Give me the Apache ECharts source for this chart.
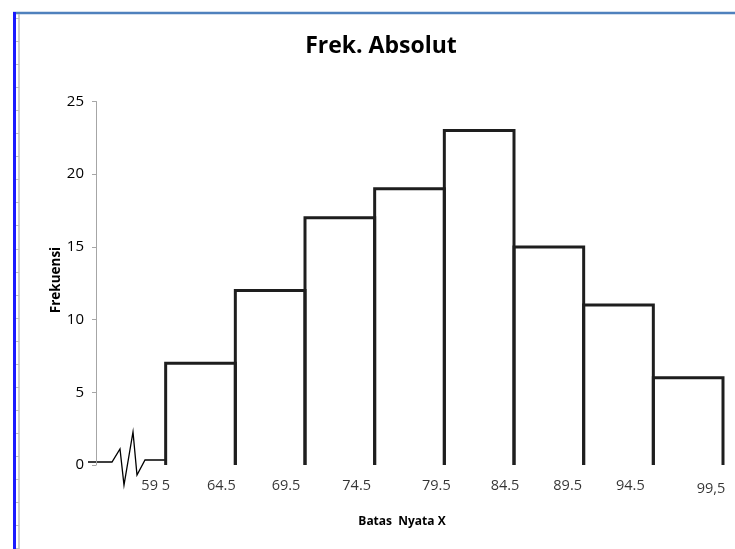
<!DOCTYPE html>
<html>
<head>
<meta charset="utf-8">
<script src="https://cdn.jsdelivr.net/npm/echarts@6/dist/echarts.min.js"></script>
<style>
  html, body { margin: 0; padding: 0; background: #ffffff; }
  #chart { width: 735px; height: 549px; }
</style>
</head>
<body>
<div id="chart"></div>
<script>
// Class boundaries (Batas Nyata) and absolute frequency of each class
const classBounds = [59.5, 64.5, 69.5, 74.5, 79.5, 84.5, 89.5, 94.5, 99.5];
const frequencies = [7, 12, 17, 19, 23, 15, 11, 6];
const boundLabels = ['59 5', '64.5', '69.5', '74.5', '79.5', '84.5', '89.5', '94.5', '99,5'];
const yTicks = [0, 5, 10, 15, 20, 25];

const FONT = '"Open Sans", "Noto Sans", sans-serif';
const X_MIN = 54.5;
const X_MAX = 99.5;

// hand-placed nudges of the boundary labels (pixels, relative to each boundary on the baseline)
const labelNudge = [[-10, 21], [-14, 21], [-19, 21], [-18, 21], [-8, 21], [-9, 21], [-16, 21], [-23, 21], [-12, 24]];

const chart = echarts.init(document.getElementById('chart'), null, { renderer: 'canvas' });

const histData = frequencies.map((f, i) => [classBounds[i], classBounds[i + 1], f]);
const labelData = classBounds.map((b, i) => ({
  value: [b, 0],
  label: { formatter: boundLabels[i], offset: labelNudge[i] }
}));

chart.setOption({
  animation: false,
  backgroundColor: '#ffffff',
  title: {
    text: 'Frek. Absolut',
    left: 376,
    textAlign: 'center',
    top: 30,
    textStyle: { fontFamily: FONT, fontWeight: 'bold', fontSize: 23, color: '#000000' }
  },
  grid: { left: 96, right: 12, top: 101.5, bottom: 84, containLabel: false },
  xAxis: {
    type: 'value',
    min: X_MIN,
    max: X_MAX,
    show: false
  },
  yAxis: {
    type: 'value',
    min: yTicks[0],
    max: yTicks[yTicks.length - 1],
    interval: yTicks[1] - yTicks[0],
    axisLine: { show: true, lineStyle: { color: '#a6a6a6', width: 1 } },
    axisTick: { show: true, length: 4, lineStyle: { color: '#a6a6a6' } },
    axisLabel: { margin: 12, color: '#000000', fontFamily: FONT, fontSize: 15 },
    splitLine: { show: false }
  },
  series: [
    {
      type: 'custom',
      clip: false,
      encode: { x: [0, 1], y: 2 },
      data: histData,
      renderItem: function (params, api) {
        const x0 = api.value(0), x1 = api.value(1), f = api.value(2);
        return {
          type: 'polyline',
          shape: { points: [api.coord([x0, 0]), api.coord([x0, f]), api.coord([x1, f]), api.coord([x1, 0])] },
          style: { stroke: '#1e1e1e', lineWidth: 3, fill: null, lineJoin: 'miter' }
        };
      }
    },
    {
      type: 'scatter',
      symbolSize: 1,
      itemStyle: { color: 'rgba(0,0,0,0)' },
      silent: true,
      label: {
        show: true,
        position: 'inside',
        color: '#000000',
        fontFamily: FONT,
        fontSize: 14.5
      },
      data: labelData,
      z: 5
    }
  ]
});

// frame decoration, axis-break zigzag and axis titles
const origin = chart.convertToPixel({ gridIndex: 0 }, [X_MIN, 0]);
const firstBound = chart.convertToPixel({ gridIndex: 0 }, [classBounds[0], 0]);
const ox = origin[0], oy = origin[1];
const breakPath = [
  [ox - 8, oy - 3], [ox + 16, oy - 3], [ox + 24, oy - 16], [ox + 28, oy + 20],
  [ox + 37, oy - 33], [ox + 41, oy + 10], [ox + 49, oy - 5], [firstBound[0], oy - 5]
];

const graphics = [
  { type: 'line', shape: { x1: 13, y1: 13, x2: 735, y2: 13 }, style: { stroke: '#4f81bd', lineWidth: 2.5 } },
  { type: 'line', shape: { x1: 14.5, y1: 12, x2: 14.5, y2: 549 }, style: { stroke: '#1a1aff', lineWidth: 3 } },
  { type: 'line', shape: { x1: 19, y1: 14, x2: 19, y2: 549 }, style: { stroke: '#bdbdbd', lineWidth: 1.5 } },
  { type: 'polyline', shape: { points: breakPath }, style: { stroke: '#000000', lineWidth: 1.3, fill: null } },
  {
    type: 'text', x: 402, y: 522,
    style: { text: 'Batas  Nyata X', fontFamily: FONT, fontWeight: 'bold', fontSize: 12, fill: '#000000', align: 'center', verticalAlign: 'middle' }
  },
  {
    type: 'text', x: 56, y: 280, rotation: Math.PI / 2,
    style: { text: 'Frekuensi', fontFamily: FONT, fontWeight: 'bold', fontSize: 13.5, fill: '#000000', align: 'center', verticalAlign: 'middle' }
  }
];
for (let y = 18; y < 549; y += 23.05) {
  graphics.push({ type: 'line', shape: { x1: 16, y1: Math.round(y) + 0.5, x2: 19, y2: Math.round(y) + 0.5 }, style: { stroke: '#bdbdbd', lineWidth: 1 } });
}
chart.setOption({ graphic: graphics });
</script>
</body>
</html>
